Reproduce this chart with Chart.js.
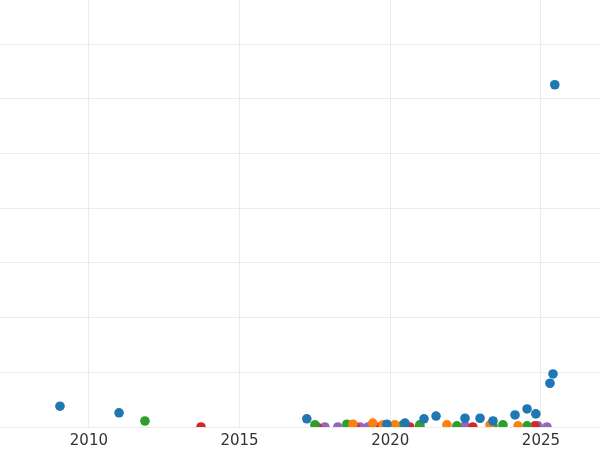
<!DOCTYPE html>
<html>
<head>
<meta charset="utf-8">
<script src="https://cdn.jsdelivr.net/npm/chart.js@4"></script>
<style>
  body { margin: 0; background: #fff; }
  canvas { display: block; }
</style>
</head>
<body>
<canvas id="chart" width="600" height="450"></canvas>
<script>
// values (y in gridline units, no labels on that axis)
const blueX = [2009.04, 2011.0, 2017.23, 2019.89, 2020.49, 2021.12, 2021.52, 2022.48, 2022.98, 2023.41, 2024.14, 2024.54, 2024.83, 2025.3, 2025.4, 2025.46];
const blueY = [0.38, 0.26, 0.15, 0.05, 0.07, 0.15, 0.2, 0.16, 0.16, 0.11, 0.22, 0.33, 0.24, 0.8, 0.97, 6.26];
const orangeX = [2018.76, 2019.42, 2019.76, 2020.15, 2021.88, 2023.31, 2024.24];
const orangeY = [0.05, 0.07, 0.04, 0.04, 0.04, 0.04, 0.02];
const greenX = [2011.86, 2017.5, 2018.56, 2020.42, 2020.98, 2022.21, 2023.41, 2023.74, 2024.54];
const greenY = [0.11, 0.04, 0.05, 0.04, 0.04, 0.02, 0.02, 0.04, 0.02];
const redX = [2013.72, 2017.57, 2018.83, 2019.66, 2020.65, 2020.98, 2022.74, 2024.8];
const redY = [0, 0, 0, 0, 0, 0, 0, 0.02];
const purpleX = [2017.83, 2018.26, 2018.99, 2019.26, 2022.48, 2024.9, 2025.2];
const purpleY = [0, 0, 0, 0, 0.02, 0.02, 0];

const xTicks = [2010, 2015, 2020, 2025];
const yTicks = [0, 1, 2, 3, 4, 5, 6, 7];

function pts(xs, ys) {
    return xs.map((x, i) => ({ x, y: ys[i] }));
}

function series(xs, ys, color) {
    return {
        data: pts(xs, ys),
        backgroundColor: color,
        borderWidth: 0,
        pointRadius: 4.8,
        pointHoverRadius: 4.8
    };
}

new Chart(document.getElementById('chart'), {
    type: 'scatter',
    data: {
        datasets: [
            series(blueX, blueY, '#1f77b4'),
            series(orangeX, orangeY, '#ff7f0e'),
            series(greenX, greenY, '#2ca02c'),
            series(redX, redY, '#d62728'),
            series(purpleX, purpleY, '#9467bd')
        ]
    },
    options: {
        responsive: false,
        animation: false,
        layout: { padding: 0, autoPadding: false },
        plugins: { legend: { display: false }, tooltip: { enabled: false } },
        scales: {
            x: {
                type: 'linear',
                min: 2007.05,
                max: 2026.96,
                afterBuildTicks: s => { s.ticks = xTicks.map(v => ({ value: v })); },
                afterFit: s => { s.height = 23; },
                grid: { color: '#ebebeb', lineWidth: 1, drawTicks: false },
                border: { display: false },
                ticks: {
                    padding: 5,
                    color: '#333333',
                    font: { family: 'DejaVu Sans', size: 15 },
                    callback: v => String(v)
                }
            },
            y: {
                min: 0,
                max: 7.81,
                afterBuildTicks: s => { s.ticks = yTicks.map(v => ({ value: v })); },
                grid: { color: '#ebebeb', lineWidth: 1, drawTicks: false },
                border: { display: false },
                ticks: { display: false }
            }
        }
    }
});
</script>
</body>
</html>
